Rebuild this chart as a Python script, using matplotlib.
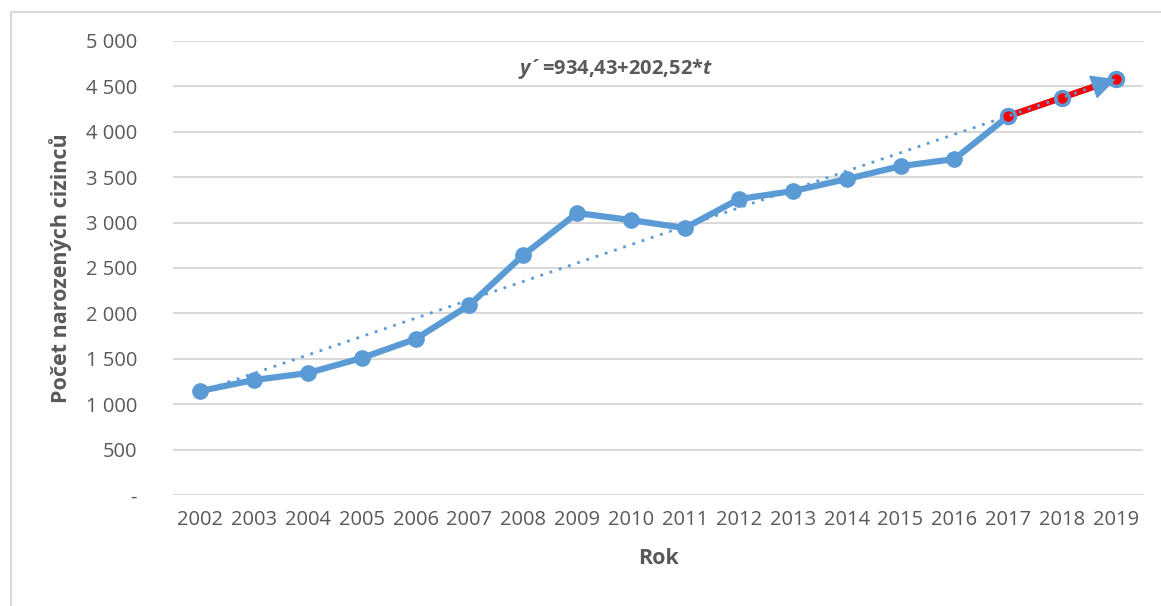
import numpy as np
import matplotlib
matplotlib.use("Agg")
import matplotlib.pyplot as plt
from matplotlib.patches import Rectangle

roky = ["2002", "2003", "2004", "2005", "2006", "2007", "2008", "2009", "2010",
        "2011", "2012", "2013", "2014", "2015", "2016", "2017", "2018", "2019"]
pocet = [1145, 1266, 1343, 1508, 1718, 2092, 2642, 3105, 3028,
         2940, 3259, 3347, 3479, 3622, 3699, 4173, 4377, 4580]
# trend y' = a + b*t
a, b = 934.43, 202.52
yticks = [0, 500, 1000, 1500, 2000, 2500, 3000, 3500, 4000, 4500, 5000]
ytick_labels = ["-", "500", "1 000", "1 500", "2 000", "2 500", "3 000", "3 500",
                "4 000", "4 500", "5 000"]

plt.rcParams['font.family'] = ['Open Sans', 'DejaVu Sans']
plt.rcParams['mathtext.fontset'] = 'custom'
plt.rcParams['mathtext.it'] = 'Open Sans:italic:bold'
plt.rcParams['mathtext.rm'] = 'Open Sans:bold'
blue = "#5B9BD5"
gray = "#595959"

fig = plt.figure(figsize=(11.61, 6.06), dpi=100)
ax = fig.add_axes([173 / 1161, 1 - 495 / 606, 970 / 1161, 454 / 606])

x = np.arange(len(roky))
t = x + 1
trend = a + b * t

# grid
for yv in yticks:
    ax.axhline(yv, color="#D9D9D9", lw=1.5, zorder=0)

# main line
ax.plot(x, pocet, color=blue, lw=4.5, marker="o", ms=11, zorder=2,
        solid_capstyle="round")
# forecast part (red)
ax.plot(x[15:], pocet[15:], color="red", lw=4.5, marker="o", ms=10,
        mfc="red", mec=blue, mew=2.5, zorder=3)
# trend line with arrow at the end
xe = x[-1] - 0.3
ye = a + b * (xe + 1)
ax.plot(np.append(x[:-1], xe), np.append(trend[:-1], ye), color=blue, lw=2,
        ls=(0, (1, 2.5)), zorder=4)
ax.annotate("", xy=(x[-1], trend[-1]), xytext=(xe, ye),
            arrowprops=dict(arrowstyle="-|>,head_length=0.8,head_width=0.4",
                            color=blue, lw=1, mutation_scale=20,
                            shrinkA=0, shrinkB=0), zorder=4)

ax.text(0.456, 0.938, "$\\it{y}$\u00b4=934,43+202,52*$\\it{t}$", transform=ax.transAxes,
        fontsize=14.5, fontweight="bold", color=gray,
        ha="center", va="center")

ax.set_xlim(-0.5, len(roky) - 0.5)
ax.set_ylim(0, 5000)
ax.set_xticks(x)
ax.set_xticklabels(roky)
ax.set_yticks(yticks)
ax.set_yticklabels(ytick_labels)
ax.tick_params(length=0, labelsize=14.5, labelcolor=gray, pad=11)
ax.tick_params(axis="y", pad=26)
for s in ax.spines.values():
    s.set_visible(False)

ax.set_xlabel("Rok", fontsize=15.5, fontweight="bold", color=gray, labelpad=13)
ax.set_ylabel("Počet narozených cizinců", fontsize=15.5, fontweight="bold",
              color=gray, labelpad=10)

fig.patches.append(Rectangle((11 / 1161, -0.1), 1.2, 1 - 12 / 606 + 0.1,
                             transform=fig.transFigure, fill=False,
                             ec="#D9D9D9", lw=1.5))

fig.savefig("out.png", dpi=100)
